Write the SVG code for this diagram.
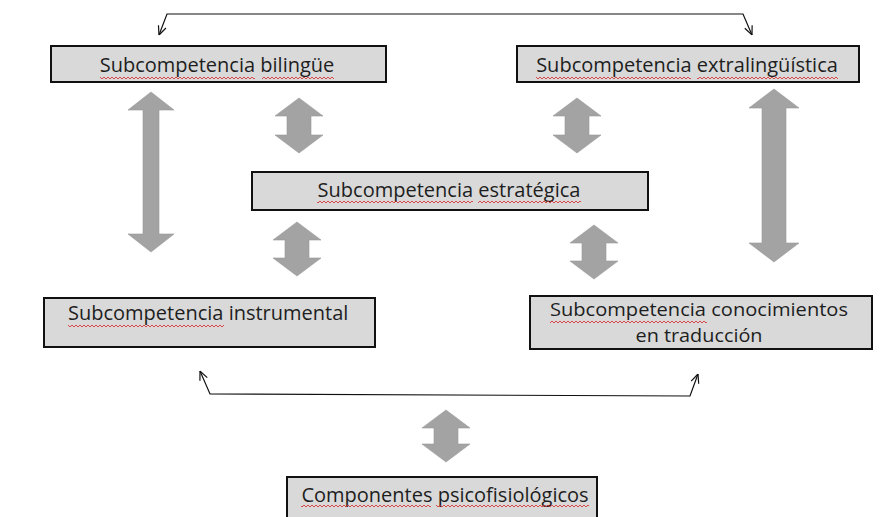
<svg xmlns="http://www.w3.org/2000/svg" width="886" height="517" viewBox="0 0 886 517">
<style>
.box{fill:#d9d9d9;stroke:#111;stroke-width:2}
.lbl{font-family:"Open Sans","Noto Sans","DejaVu Sans",sans-serif;font-size:20px;fill:#1e1e1e}
.sm{font-size:19px}
.mid{text-anchor:middle}
.blk{fill:#a3a3a3;stroke:#999;stroke-width:0.6}
.thin{fill:none;stroke:#111;stroke-width:1.2}
.wv{fill:url(#wave)}
</style>
<defs>
<pattern id="wave" patternUnits="userSpaceOnUse" x="0" y="0" width="4" height="4">
<path d="M0,1 L2,3 L4,1" fill="none" stroke="#d22" stroke-width="0.8"/>
</pattern>
<marker id="vh" viewBox="0 0 10 10" refX="10" refY="5" markerWidth="10" markerHeight="10" markerUnits="userSpaceOnUse" orient="auto-start-reverse">
<path d="M1,1 L10,5 L1,9" fill="none" stroke="#111" stroke-width="1.2"/>
</marker>
</defs>
<rect width="886" height="517" fill="#fff"/>

<g id="connectors">
<path class="thin" d="M159,35 L167,14 L743,14 L752,35" marker-start="url(#vh)" marker-end="url(#vh)"/>
<path class="thin" d="M200,371 L210,394 L690,396 L698,374" marker-start="url(#vh)" marker-end="url(#vh)"/>
<polygon class="blk" points="151,92 174,110 159,110 159,234 174,234 151,252 128,234 143,234 143,110 128,110"/>
<polygon class="blk" points="299,98 323,116 311,116 311,135 323,135 299,153 275,135 287,135 287,116 275,116"/>
<polygon class="blk" points="577,98 601,116 589,116 589,135 601,135 577,153 553,135 565,135 565,116 553,116"/>
<polygon class="blk" points="774,89 799,108 786,108 786,243 799,243 774,262 749,243 762,243 762,108 749,108"/>
<polygon class="blk" points="297,222 321,240 309,240 309,258 321,258 297,276 273,258 285,258 285,240 273,240"/>
<polygon class="blk" points="594,225 618,243 606,243 606,261 618,261 594,279 570,261 582,261 582,243 570,243"/>
<polygon class="blk" points="446,410 470,428 458,428 458,444 470,444 446,462 422,444 434,444 434,428 422,428"/>
</g>

<g id="bilingue">
<rect class="box" x="51" y="46" width="335" height="36"/>
<text class="lbl mid" x="217" y="72">Subcompetencia bilingüe</text>
<rect class="wv" x="100" y="76" width="155" height="4"/>
<rect class="wv" x="262" y="76" width="72" height="4"/>
</g>

<g id="extralinguistica">
<rect class="box" x="517" y="46" width="342" height="36"/>
<text class="lbl mid" x="687" y="72">Subcompetencia extralingüística</text>
<rect class="wv" x="536" y="76" width="155" height="4"/>
<rect class="wv" x="697" y="76" width="141" height="4"/>
</g>

<g id="estrategica">
<rect class="box" x="252" y="172" width="396" height="38"/>
<text class="lbl mid" x="449" y="197">Subcompetencia estratégica</text>
<rect class="wv" x="317" y="200" width="156" height="4"/>
<rect class="wv" x="478" y="200" width="103" height="4"/>
</g>

<g id="instrumental">
<rect class="box" x="44" y="298" width="331" height="49"/>
<text class="lbl" x="68" y="320">Subcompetencia instrumental</text>
<rect class="wv" x="68" y="324" width="156" height="4"/>
</g>

<g id="conocimientos">
<rect class="box" x="530" y="296" width="342" height="53"/>
<text class="lbl sm mid" x="699" y="316" textLength="298" lengthAdjust="spacingAndGlyphs">Subcompetencia conocimientos</text>
<text class="lbl sm mid" x="699" y="342" textLength="127" lengthAdjust="spacingAndGlyphs">en traducción</text>
<rect class="wv" x="550" y="319" width="157" height="4"/>
</g>

<g id="componentes">
<rect class="box" x="287" y="477" width="310" height="52"/>
<text class="lbl mid" x="445" y="502">Componentes psicofisiológicos</text>
<rect class="wv" x="301" y="504" width="130" height="4"/>
<rect class="wv" x="436" y="504" width="153" height="4"/>
</g>
</svg>
